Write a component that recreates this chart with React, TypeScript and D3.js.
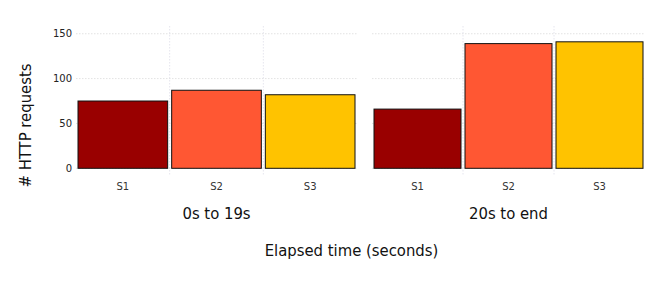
import React from "react";
import * as d3 from "d3";

const groups = ["0s to 19s", "20s to end"];
const servers = ["S1", "S2", "S3"];
const values0 = [75, 87, 82];
const values1 = [66, 139, 141];
const yTicks = [0, 50, 100, 150];
const colors = ["#990000", "#ff5733", "#ffc300"];

const W = 672;
const H = 288;
const top = 26;
const bottom = 168.3;
const panelRanges: [number, number][] = [
  [76, 357],
  [372, 645],
];

export default function App() {
  const series = [values0, values1];
  const maxV = d3.max([...values0, ...values1]) as number;
  const y = d3.scaleLinear().domain([0, maxV * 1.125]).range([bottom, top]);
  const color = d3.scaleOrdinal<string, string>().domain(servers).range(colors);
  const condensed = "'DejaVu Sans Condensed', 'DejaVu Sans', sans-serif";

  return (
    <svg
      width={W}
      height={H}
      style={{ position: "absolute", left: 0, top: 0, background: "#fff" }}
      fontFamily="'DejaVu Sans', sans-serif"
    >
      {groups.map((g, gi) => {
        const [x0, x1] = panelRanges[gi];
        const x = d3.scaleBand().domain(servers).range([x0, x1]).padding(0);
        const bw = x.bandwidth();
        return (
          <g key={g}>
            {/* horizontal grid */}
            {yTicks.map((t) => (
              <line
                key={t}
                x1={x0}
                x2={x1}
                y1={y(t)}
                y2={y(t)}
                stroke="#dcdcdc"
                strokeWidth={0.8}
                strokeDasharray="1.5,1.5"
              />
            ))}
            {/* vertical grid at band boundaries */}
            {servers.slice(1).map((s) => (
              <line
                key={s}
                x1={x(s)!}
                x2={x(s)!}
                y1={top}
                y2={bottom + 7}
                stroke="#dedeea"
                strokeWidth={0.8}
                strokeDasharray="1.5,1.5"
              />
            ))}
            {/* bars */}
            {servers.map((s, i) => (
              <rect
                key={s}
                x={x(s)! + 2}
                width={bw - 4}
                y={y(series[gi][i])}
                height={y(0) - y(series[gi][i])}
                fill={color(s)}
                stroke="#111"
                strokeWidth={1}
              />
            ))}
            {/* x tick labels */}
            {servers.map((s) => (
              <text
                key={s}
                x={x(s)! + bw / 2}
                y={190}
                textAnchor="middle"
                fontSize={10}
                fill="#333"
              >
                {s}
              </text>
            ))}
            <text
              x={(x0 + x1) / 2}
              y={219}
              textAnchor="middle"
              fontSize={16.5}
              fontFamily={condensed}
              fill="#111"
            >
              {g}
            </text>
          </g>
        );
      })}
      {/* y tick labels */}
      {yTicks.map((t) => (
        <text
          key={t}
          x={72}
          y={y(t)}
          dy="0.35em"
          textAnchor="end"
          fontSize={10}
          fill="#222"
        >
          {t}
        </text>
      ))}
      <text
        transform={`translate(31,125.5) rotate(-90)`}
        textAnchor="middle"
        fontSize={16.5}
        fontFamily={condensed}
        fill="#111"
      >
        # HTTP requests
      </text>
      <text
        x={351.5}
        y={256}
        textAnchor="middle"
        fontSize={16.5}
        fontFamily={condensed}
        fill="#111"
      >
        Elapsed time (seconds)
      </text>
    </svg>
  );
}
